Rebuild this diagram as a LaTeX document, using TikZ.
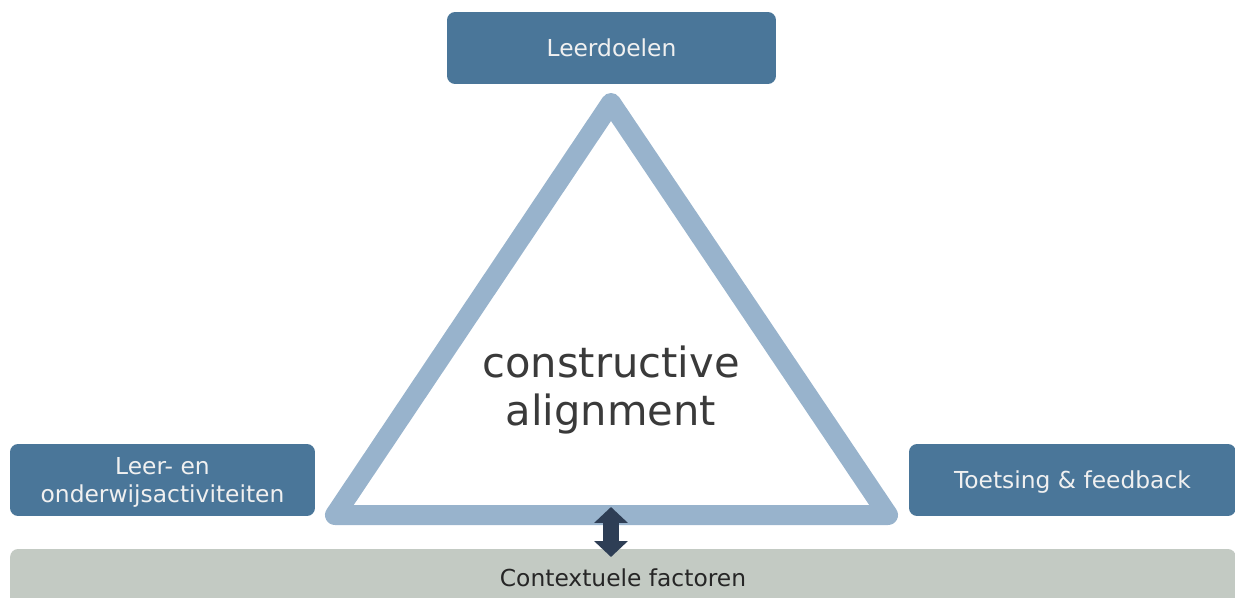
\documentclass[tikz,border=0pt]{standalone}
\usepackage{fontspec}
\setmainfont{DejaVu Sans}
\usetikzlibrary{arrows.meta}
\definecolor{boxblue}{HTML}{4A7699}
\definecolor{triblue}{HTML}{98B3CC}
\definecolor{bargray}{HTML}{C3CAC3}
\definecolor{arrowdark}{HTML}{2E3E55}
\definecolor{textdark}{HTML}{3A3A3A}
\tikzset{
    element/.style={fill=boxblue,text=white!94!black,rounded corners=0.16cm,inner sep=0pt,
        minimum height=1.44cm,align=center,font=\fontsize{13.3}{16}\selectfont},
}
\begin{document}
\begin{tikzpicture}[x=0.02cm,y=-0.02cm]
            	\useasboundingbox (0,0) rectangle (1235,598);

                % the alignment triangle
                \coordinate (top) at (611,103);
                \coordinate (left) at (335,515);
                \coordinate (right) at (888,515);
                \draw[triblue,line width=0.4cm,line join=round] (top) -- (left) -- (right) -- cycle;
                \node[text=textdark,align=center,font=\fontsize{23.7}{27}\selectfont] (core) at (611,390) {constructive\\alignment};

                \node[element,minimum width=6.58cm] (goals) at (611.5,48) {Leerdoelen};
                \node[element,minimum width=6.1cm,text depth=0cm] (activities) at (162.5,480) {Leer- en\\onderwijsactiviteiten};
                \node[element,minimum width=6.54cm,text depth=0cm] (assessment) at (1072.5,480) {Toetsing \& feedback};

                \node[fill=bargray,rounded corners=0.16cm,inner sep=0pt,minimum width=24.52cm,minimum height=1.16cm,
                    font=\fontsize{13.3}{16}\selectfont,text=black!85] (context) at (623,578) {Contextuele factoren};

                \coordinate (up) at (611,507);
                \coordinate (down) at (611,557);
                \draw[arrowdark,line width=0.32cm,{Triangle[width=0.66cm,length=0.32cm]}-{Triangle[width=0.66cm,length=0.32cm]}] (up) -- (down);
            \end{tikzpicture}
\end{document}
